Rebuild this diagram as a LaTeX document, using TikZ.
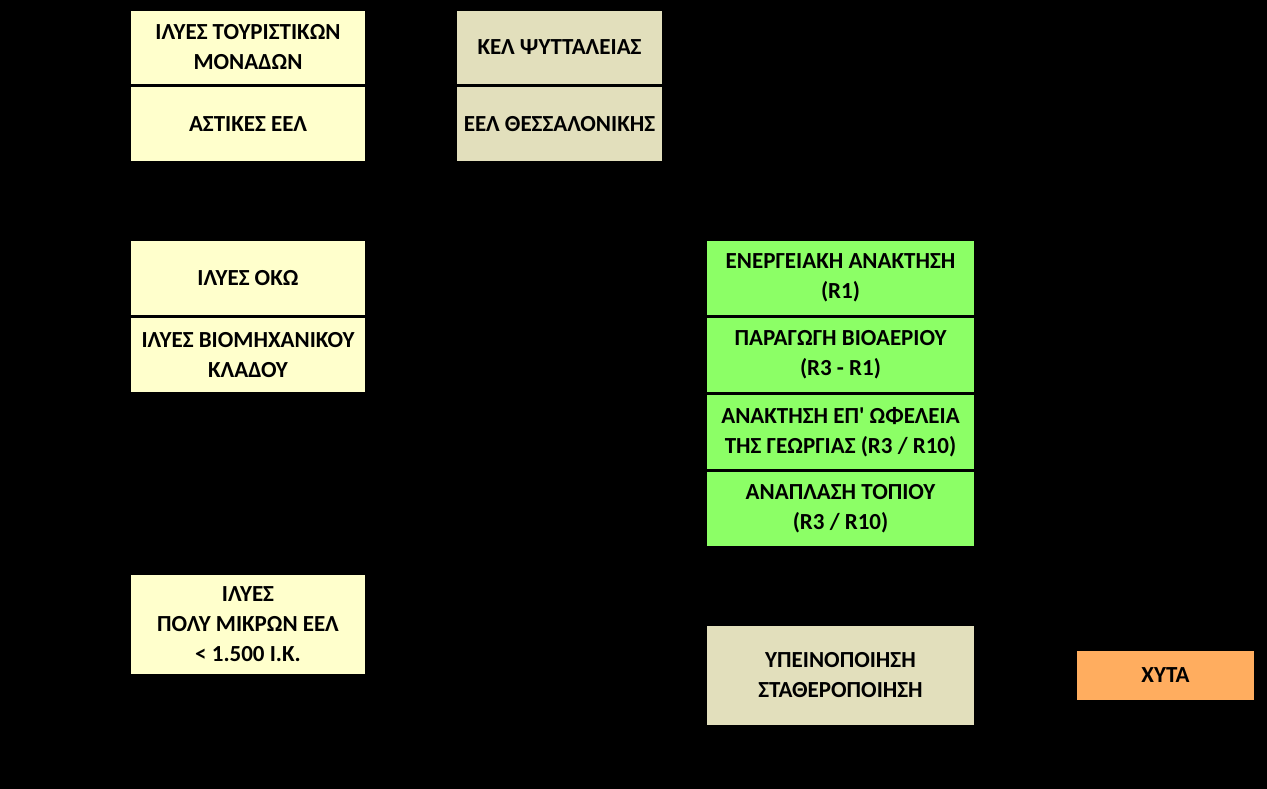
\documentclass[tikz,border=0pt]{standalone}
\usepackage{fontspec}
\setmainfont{Carlito}[Ligatures=TeXOff]
\definecolor{cyel}{HTML}{FFFFCC}
\definecolor{cbei}{HTML}{E2DFBC}
\definecolor{cgrn}{HTML}{8CFF66}
\definecolor{corg}{HTML}{FFAD5F}
\begin{document}
\begin{tikzpicture}[x=1pt,y=-1pt,
  box/.style={rectangle, draw=none, inner sep=0pt, align=center, text=black,
    font=\fontsize{23}{30}\selectfont\bfseries},
  yel/.style={box, fill=cyel},
  bei/.style={box, fill=cbei},
  grn/.style={box, fill=cgrn},
  org/.style={box, fill=corg}]
\fill[black] (0,0) rectangle (1267,789);
\useasboundingbox (0,0) rectangle (1267,789);
% left column
\node[yel, minimum width=234pt, minimum height=73pt] (tour) at (248,47.5) {ΙΛΥΕΣ ΤΟΥΡΙΣΤΙΚΩΝ\\ΜΟΝΑΔΩΝ};
\node[yel, minimum width=234pt, minimum height=74pt] (ast) at (248,124) {ΑΣΤΙΚΕΣ ΕΕΛ};
\node[yel, minimum width=234pt, minimum height=74pt] (oko) at (248,278) {ΙΛΥΕΣ ΟΚΩ};
\node[yel, minimum width=234pt, minimum height=74pt] (bio) at (248,355) {ΙΛΥΕΣ ΒΙΟΜΗΧΑΝΙΚΟΥ\\ΚΛΑΔΟΥ};
\node[yel, minimum width=234pt, minimum height=99pt] (mik) at (248,624.5) {ΙΛΥΕΣ\\ΠΟΛΥ ΜΙΚΡΩΝ ΕΕΛ\\< 1.500 Ι.Κ.};
% middle column
\node[bei, minimum width=205pt, minimum height=73pt] (kel) at (559.5,47.5) {ΚΕΛ ΨΥΤΤΑΛΕΙΑΣ};
\node[bei, minimum width=205pt, minimum height=74pt] (the) at (559.5,124) {ΕΕΛ ΘΕΣΣΑΛΟΝΙΚΗΣ};
% right column
\node[grn, minimum width=267pt, minimum height=74pt] (r1) at (840.5,278) {ΕΝΕΡΓΕΙΑΚΗ ΑΝΑΚΤΗΣΗ\\(R1)};
\node[grn, minimum width=267pt, minimum height=74pt] (r2) at (840.5,355) {ΠΑΡΑΓΩΓΗ ΒΙΟΑΕΡΙΟΥ\\(R3 - R1)};
\node[grn, minimum width=267pt, minimum height=74pt] (r3) at (840.5,432) {ΑΝΑΚΤΗΣΗ ΕΠ' ΩΦΕΛΕΙΑ\\ΤΗΣ ΓΕΩΡΓΙΑΣ (R3 / R10)};
\node[grn, minimum width=267pt, minimum height=74pt] (r4) at (840.5,509) {ΑΝΑΠΛΑΣΗ ΤΟΠΙΟΥ\\(R3 / R10)};
\node[bei, minimum width=267pt, minimum height=99pt] (ypo) at (840.5,675.5) {ΥΠΕΙΝΟΠΟΙΗΣΗ\\ΣΤΑΘΕΡΟΠΟΙΗΣΗ};
\node[org, minimum width=177pt, minimum height=49pt] (xyta) at (1165.5,675.5) {ΧΥΤΑ};
\end{tikzpicture}
\end{document}
